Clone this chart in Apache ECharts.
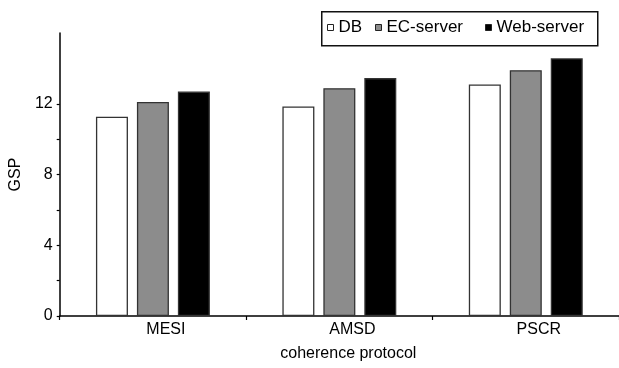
<!DOCTYPE html>
<html>
<head>
<meta charset="utf-8">
<script src="https://cdn.jsdelivr.net/npm/echarts@6/dist/echarts.min.js"></script>
<style>html,body{margin:0;padding:0;background:#fff}#c{width:619px;height:368px}</style>
</head>
<body>
<div id="c"></div>
<script>
const categories = ['MESI', 'AMSD', 'PSCR'];
const seriesNames = ['DB', 'EC-server', 'Web-server'];
const dbValues = [11.27, 11.85, 13.09];
const ecValues = [12.1, 12.88, 13.9];
const webValues = [12.69, 13.45, 14.57];
const yLabelValues = [0, 4, 8, 12];
const yTickValues = [0, 2, 4, 6, 8, 10, 12];

const FONT = 'Liberation Sans, Arial, Helvetica, sans-serif';
const chart = echarts.init(document.getElementById('c'), null, {renderer: 'canvas'});
const fills = ['#ffffff', '#8c8c8c', '#000000'];
const values = [dbValues, ecValues, webValues];
const legendLefts = [327, 375, 485];

chart.setOption({
  animation: false,
  backgroundColor: '#fff',
  textStyle: {fontFamily: FONT, color: '#000'},
  graphic: [{
    type: 'rect',
    left: 321,
    top: 11,
    z: 0,
    shape: {width: 276, height: 34},
    style: {fill: '#fff', stroke: '#111', lineWidth: 1.5}
  }],
  legend: seriesNames.map((n, i) => ({
    data: [n],
    left: legendLefts[i],
    top: 19,
    z: 10,
    icon: 'rect',
    itemWidth: 6,
    itemHeight: 6,
    padding: 0,
    textStyle: {fontFamily: FONT, fontSize: 17, color: '#000'},
    itemStyle: {borderColor: '#222', borderWidth: 1}
  })),
  grid: {left: 58, right: 0, top: 33, bottom: 52, containLabel: false},
  xAxis: {
    type: 'category',
    data: categories,
    name: 'coherence protocol',
    nameLocation: 'middle',
    nameGap: 30,
    nameTextStyle: {fontFamily: FONT, fontSize: 16, color: '#000', padding: [0, 0, 0, 18]},
    axisLine: {show: true, lineStyle: {color: '#000', width: 1.5}},
    axisTick: {show: true, length: 4, inside: false, lineStyle: {color: '#000', width: 1.2}},
    axisLabel: {fontFamily: FONT, fontSize: 16, color: '#000', margin: 6, padding: [0, 0, 0, 26]},
    splitLine: {show: false}
  },
  yAxis: {
    type: 'value',
    min: 0,
    max: 16,
    interval: 2,
    name: 'GSP',
    nameLocation: 'middle',
    nameRotate: 90,
    nameGap: 33,
    nameTextStyle: {fontFamily: FONT, fontSize: 16, color: '#000'},
    axisLine: {show: true, lineStyle: {color: '#000', width: 1.5}},
    axisTick: {show: true, length: 3, inside: false, customValues: yTickValues, lineStyle: {color: '#000', width: 1.2}},
    axisLabel: {fontFamily: FONT, fontSize: 16, color: '#000', margin: 7, customValues: yLabelValues},
    splitLine: {show: false}
  },
  series: seriesNames.map((name, i) => ({
    name: name,
    type: 'bar',
    data: values[i],
    barWidth: 32,
    barGap: '28%',
    itemStyle: {color: fills[i], borderColor: '#333', borderWidth: 1.3}
  }))
});
</script>
</body>
</html>
